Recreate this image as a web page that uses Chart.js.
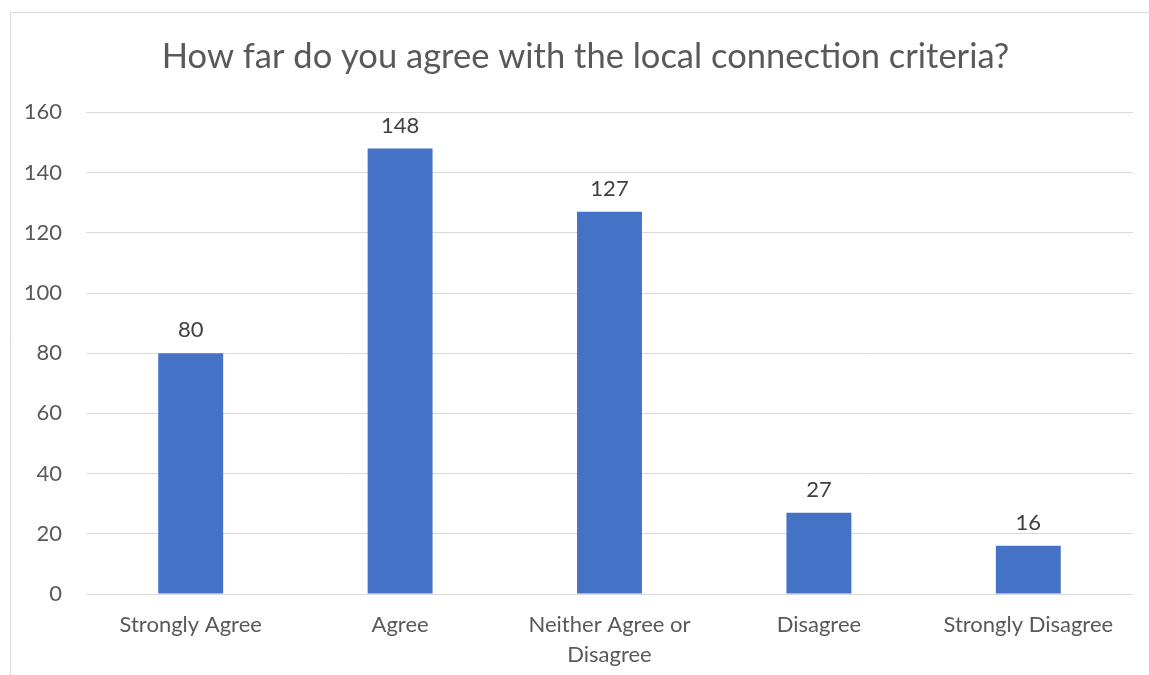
<!DOCTYPE html>
<html>
<head>
<meta charset="utf-8">
<title>Local connection criteria</title>
<script src="https://cdn.jsdelivr.net/npm/chart.js@4.4.1/dist/chart.umd.min.js"></script>
<style>
  html, body { margin: 0; padding: 0; background: #ffffff; }
  canvas { display: block; }
</style>
</head>
<body>
<canvas id="chart" width="1149" height="675"></canvas>
<script>
const chartTitle = 'How far do you agree with the local connection criteria?';
const categories = ['Strongly Agree', 'Agree', ['Neither Agree or', 'Disagree'], 'Disagree', 'Strongly Disagree'];
const responses = [80, 148, 127, 27, 16];
const yMax = 160;
const yStep = 20;

const FONT = 'Lato';
const gridColor = '#d9d9d9';
const labelColor = '#595959';

// thin frame round the chart, only its left and top edges fall inside the canvas
const framePlugin = {
    id: 'frame',
    afterLayout(chart) {
        // centre the title over the plot rather than the whole canvas
        if (chart.titleBlock) chart.titleBlock.left = 38;
    },
    beforeDraw(chart) {
        const ctx = chart.ctx;
        ctx.save();
        ctx.strokeStyle = gridColor;
        ctx.lineWidth = 1;
        ctx.beginPath();
        ctx.moveTo(10.5, chart.height);
        ctx.lineTo(10.5, 12.5);
        ctx.lineTo(chart.width, 12.5);
        ctx.stroke();
        ctx.restore();
    }
};

// value written above each bar
const valueLabels = {
    id: 'valueLabels',
    afterDatasetsDraw(chart) {
        const ctx = chart.ctx;
        const meta = chart.getDatasetMeta(0);
        ctx.save();
        ctx.font = `22px ${FONT}`;
        ctx.fillStyle = '#404040';
        ctx.textAlign = 'center';
        ctx.textBaseline = 'alphabetic';
        meta.data.forEach((bar, i) => {
            ctx.fillText(String(chart.data.datasets[0].data[i]), bar.x, bar.y - 16);
        });
        ctx.restore();
    }
};

new Chart(document.getElementById('chart'), {
    type: 'bar',
    data: {
        labels: categories,
        datasets: [{
            data: responses,
            backgroundColor: '#4472c4',
            borderWidth: 0,
            categoryPercentage: 1,
            barPercentage: 0.31
        }]
    },
    options: {
        responsive: false,
        animation: false,
        layout: { padding: { left: 0, right: 16, top: 0, bottom: 0 } },
        plugins: {
            legend: { display: false },
            tooltip: { enabled: false },
            title: {
                display: true,
                text: chartTitle,
                color: labelColor,
                font: { family: FONT, size: 34.5, weight: 'normal' },
                padding: { top: 36, bottom: 35 }
            }
        },
        scales: {
            x: {
                grid: { display: false, drawTicks: false },
                border: { display: false },
                ticks: {
                    color: labelColor,
                    font: { family: FONT, size: 22, lineHeight: 30 / 22 },
                    padding: 16,
                    maxRotation: 0,
                    autoSkip: false
                },
                afterFit(scale) { scale.height = 81; }
            },
            y: {
                min: 0,
                max: yMax,
                grid: { color: gridColor, lineWidth: 1, drawTicks: false },
                border: { display: false },
                ticks: {
                    stepSize: yStep,
                    color: labelColor,
                    font: { family: FONT, size: 22 },
                    padding: 24
                },
                afterFit(scale) { scale.width = 86; }
            }
        }
    },
    plugins: [framePlugin, valueLabels]
});
</script>
</body>
</html>
